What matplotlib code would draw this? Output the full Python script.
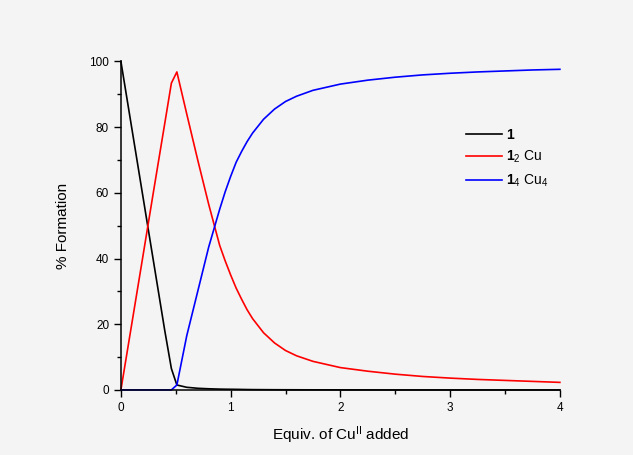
import matplotlib.pyplot as plt
from matplotlib.ticker import MultipleLocator

plt.rcParams['font.family'] = ['Liberation Sans', 'DejaVu Sans']
plt.rcParams['mathtext.fontset'] = 'custom'
plt.rcParams['mathtext.rm'] = 'Liberation Sans'
plt.rcParams['mathtext.bf'] = 'Liberation Sans:bold'
plt.rcParams['mathtext.it'] = 'Liberation Sans:italic'

# equivalents of Cu(II) added
equiv = [0, 0.1, 0.2, 0.3, 0.4, 0.46, 0.51, 0.6, 0.7, 0.8, 0.9, 0.95, 1.0, 1.05, 1.1,
         1.15, 1.2, 1.3, 1.4, 1.5, 1.6, 1.75, 2.0, 2.25, 2.5, 2.75, 3.0, 3.25, 3.5,
         3.75, 4.0]

# % formation of each species
free_ligand = [100, 79.5, 59, 38.5, 18, 6.5, 1.5, 0.8, 0.5, 0.35, 0.25, 0.22, 0.2, 0.18,
               0.15, 0.12, 0.1, 0.08, 0.06, 0.05, 0.04, 0.03, 0.02, 0.01, 0, 0, 0, 0, 0,
               0, 0]
l2cu = [0, 20.3, 40.6, 61, 81.2, 93.4, 96.8, 84, 70, 56.5, 44, 39.3, 35, 31, 27.6,
        24.4, 21.7, 17.4, 14.3, 12.0, 10.4, 8.7, 6.8, 5.7, 4.8, 4.1, 3.6, 3.2, 2.9,
        2.6, 2.3]
l4cu4 = [0, 0, 0, 0, 0, 0, 1.5, 16.5, 30, 43.5, 55, 60.3, 65, 69.3, 72.6,
         75.6, 78.2, 82.4, 85.5, 87.8, 89.4, 91.2, 93.1, 94.3, 95.2, 95.9, 96.4, 96.8, 97.1,
         97.4, 97.6]

fig = plt.figure(figsize=(6.33, 4.55), dpi=100)
fig.patch.set_facecolor('#f4f4f4')
ax = fig.add_axes([0.191, 0.143, 0.6935, 0.722])
ax.set_facecolor('none')

ax.plot(equiv, free_ligand, color='black', lw=1.2, label=r'$\mathbf{1}$', clip_on=False)
ax.plot(equiv, l2cu, color='red', lw=1.2, label=r'$\mathbf{1}_{2}$ Cu', clip_on=False)
ax.plot(equiv, l4cu4, color='blue', lw=1.2, label=r'$\mathbf{1}_{4}$ Cu$_{4}$', clip_on=False)

ax.set_xlim(0, 4)
ax.set_ylim(0, 100)
ax.xaxis.set_major_locator(MultipleLocator(1))
ax.xaxis.set_minor_locator(MultipleLocator(0.5))
ax.yaxis.set_major_locator(MultipleLocator(20))
ax.yaxis.set_minor_locator(MultipleLocator(10))
ax.tick_params(which='major', direction='out', length=5, width=1, labelsize=8.5)
ax.tick_params(which='minor', direction='out', length=3, width=1)

for s in ['top', 'right']:
    ax.spines[s].set_visible(False)
for s in ['left', 'bottom']:
    ax.spines[s].set_linewidth(1.1)

ax.set_xlabel(r'Equiv. of Cu$^{\mathrm{II}}$ added', fontsize=11, labelpad=7.5)
ax.set_ylabel('% Formation', fontsize=11, labelpad=14)

ax.legend(loc='upper left', bbox_to_anchor=(0.758, 0.835), frameon=False,
          fontsize=10, handlelength=2.6, labelspacing=0.5, handletextpad=0.3)

fig.savefig('out.png', dpi=100, facecolor=fig.get_facecolor())
